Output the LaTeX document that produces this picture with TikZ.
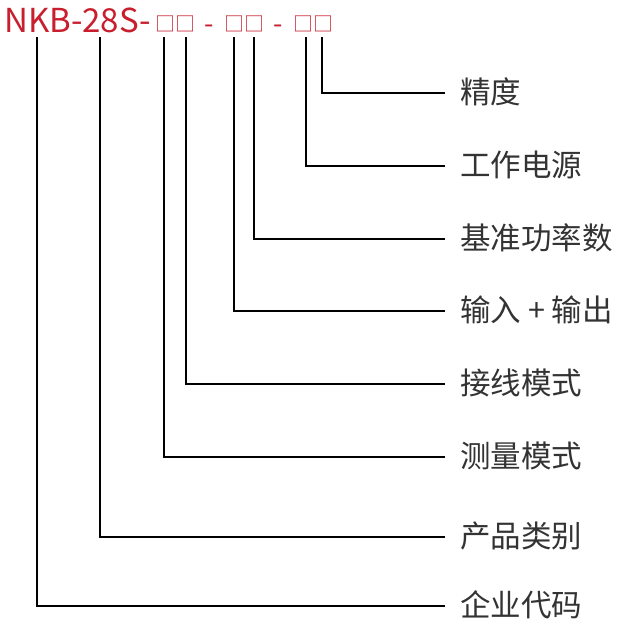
\documentclass[tikz,border=0pt]{standalone}
\usepackage{fontspec}
\setmainfont{Noto Sans CJK SC}
\definecolor{titlered}{HTML}{C81E2D}
\definecolor{labgray}{HTML}{333333}
\begin{document}
\begin{tikzpicture}[x=1pt,y=-1pt,
  lab/.style={anchor=west,inner xsep=0pt,inner ysep=0pt,text height=22pt,text depth=2pt,
    font=\fontsize{30.5}{31}\selectfont,text=labgray},
  conn/.style={draw=black,line width=1.1pt},
  boxes/.style={anchor=base west,inner sep=0pt,font=\fontsize{20}{20}\selectfont,text=titlered},
  hyph/.style={anchor=base west,inner sep=0pt,font=\fontsize{27}{27}\selectfont,text=titlered}]
\useasboundingbox[fill=white] (0,0) rectangle (625,625);
\node[anchor=base west,inner sep=0pt,font=\fontsize{33}{33}\selectfont,text=titlered] (title) at (4,32) {NKB-28S-};
\node[boxes] (b1) at (155,31) {□□};
\node[hyph] (d1) at (204,33) {-};
\node[boxes] (b2) at (224,31) {□□};
\node[hyph] (d2) at (273,33) {-};
\node[boxes] (b3) at (293,31) {□□};
% top ends of connectors
\coordinate (t1) at (37,37);
\coordinate (t2) at (100,37);
\coordinate (t3) at (164,37);
\coordinate (t4) at (186,37);
\coordinate (t5) at (234,37);
\coordinate (t6) at (254,37);
\coordinate (t7) at (306,37);
\coordinate (t8) at (322,37);
% labels
\node[lab] (l8) at (445,93) {\hspace{15pt}精度};
\node[lab] (l7) at (445,166) {\hspace{15pt}工作电源};
\node[lab] (l6) at (445,239) {\hspace{15pt}基准功率数};
\node[lab] (l5) at (445,311) {\hspace{15pt}输入 + 输出};
\node[lab] (l4) at (445,384) {\hspace{15pt}接线模式};
\node[lab] (l3) at (445,457) {\hspace{15pt}测量模式};
\node[lab] (l2) at (445,537) {\hspace{15pt}产品类别};
\node[lab] (l1) at (445,606) {\hspace{15pt}企业代码};
\foreach \i in {1,...,8}{\draw[conn] (t\i) |- (l\i.west);}
\end{tikzpicture}
\end{document}
